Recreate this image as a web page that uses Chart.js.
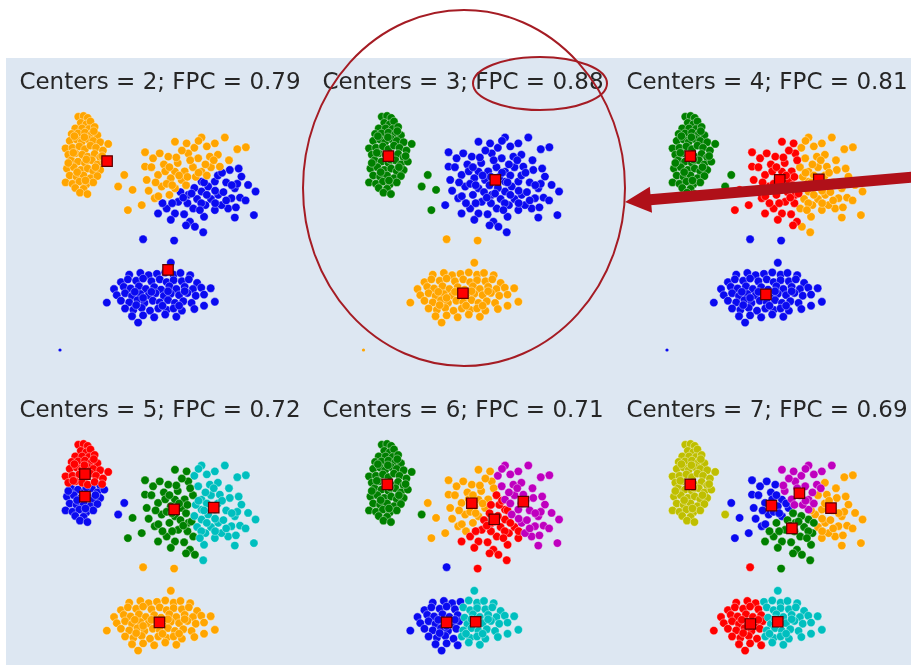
<!DOCTYPE html>
<html>
<head>
<meta charset="utf-8">
<script src="https://cdn.jsdelivr.net/npm/chart.js@4.4.1/dist/chart.umd.min.js"></script>
<style>
  html, body { margin:0; padding:0; background:#fff; width:911px; height:665px; overflow:hidden; position:relative; }
  #panel { position:absolute; left:6px; top:58px; width:905px; height:607px; background:#dde7f2; }
  canvas.sub { position:absolute; }
  #marks { position:absolute; left:0; top:0; pointer-events:none; }
</style>
</head>
<body>
<div id="panel"></div>
<div id="plots"></div>
<svg id="marks" width="911" height="665">
  <ellipse cx="464" cy="188" rx="161" ry="178" fill="none" stroke="#a51c24" stroke-width="2"/>
  <ellipse cx="540" cy="83.5" rx="67" ry="26.5" fill="none" stroke="#a51c24" stroke-width="2"/>
  <line x1="915" y1="177" x2="650" y2="199.8" stroke="#b01019" stroke-width="11"/>
  <polygon points="625,202 652,212.8 649.8,186.8" fill="#b01019"/>
</svg>
<script>
// titles
const centerCounts = [2, 3, 4, 5, 6, 7];
const fpcValues = [0.79, 0.88, 0.81, 0.72, 0.71, 0.69];

// colours used for clusters, in cluster order
const clusterColors = ['#0a0af0', '#ffa500', '#008000', '#ff0000', '#00bfbf', '#bf00bf', '#bfbf00'];

// cluster centres
const centersX = [
  [3.90, 1.70],
  [4.76, 3.59, 0.90],
  [3.57, 5.48, 0.84, 4.07],
  [0.90, 3.59, 4.12, 0.90, 5.55],
  [3.00, 3.91, 0.86, 4.72, 4.05, 5.77],
  [3.77, 5.92, 4.51, 3.01, 4.00, 4.78, 0.84]
];
const centersY = [
  [2.89, 6.82],
  [6.14, 2.05, 7.00],
  [2.01, 6.16, 7.00, 6.14],
  [6.55, 2.01, 6.09, 7.36, 6.15],
  [2.01, 6.31, 6.99, 5.73, 2.03, 6.37],
  [6.22, 6.13, 5.40, 1.95, 2.03, 6.67, 6.99]
];

// the points (same for every panel)
const topLeftBlob = [
  [0.66,8.42],[0.85,8.45],[1.00,8.38],[0.75,8.20],[0.95,8.15],[1.10,8.25],[0.55,8.00],[0.80,8.00],
  [1.05,7.98],[1.25,8.05],[0.42,7.80],[0.65,7.82],[0.90,7.85],[1.15,7.80],[1.35,7.75],[0.35,7.55],
  [0.60,7.60],[0.78,7.50],[1.00,7.62],[1.20,7.55],[1.45,7.50],[1.74,7.44],[0.20,7.28],[0.45,7.30],
  [0.70,7.35],[0.90,7.25],[1.10,7.38],[1.30,7.30],[1.55,7.20],[0.30,7.05],[0.55,7.10],[0.80,7.05],
  [1.00,6.98],[1.25,7.08],[1.45,6.95],[0.40,6.85],[0.65,6.80],[0.90,6.75],[1.15,6.85],[1.35,6.70],
  [1.60,6.80],[0.25,6.55],[0.50,6.60],[0.75,6.50],[1.00,6.55],[1.20,6.45],[1.45,6.50],[0.35,6.30],
  [0.60,6.25],[0.85,6.30],[1.10,6.20],[1.35,6.28],[0.20,6.05],[0.45,6.00],[0.70,6.08],[0.95,5.98],
  [1.20,6.05],[0.55,5.85],[0.85,5.82],[0.72,5.68],[0.99,5.63],[0.52,7.72],[0.88,7.68],[1.22,7.90],
  [0.48,7.12],[0.95,6.88],[1.28,6.60],[0.62,6.42],[0.92,6.12],[1.52,7.00],[0.30,6.75]
];
const upperCloud = [
  [3.07,7.14],[4.15,7.52],[4.57,7.46],[5.11,7.67],[5.95,7.67],[6.71,7.32],[5.59,7.46],[3.07,6.62],
  [3.13,6.14],[2.95,5.23],[3.54,4.93],[4.15,4.93],[4.48,4.90],[4.69,4.63],[4.87,4.45],[5.17,4.25],
  [5.20,4.81],[6.31,4.78],[7.00,4.87],[7.06,5.72],[6.79,5.96],[6.55,6.26],[6.13,6.50],[6.19,5.48],
  [6.07,5.11],[3.42,5.48],[3.85,5.11],[5.25,5.23],[5.71,5.60],[3.36,6.92],[3.91,6.98],[4.63,7.10],
  [4.99,6.92],[5.41,6.98],[5.77,6.62],[3.54,6.32],[4.15,6.44],[5.11,6.44],[5.59,6.08],[4.15,5.84],
  [4.63,5.60],[5.11,5.72],[3.67,5.90],[4.39,6.14],[5.11,6.08],[6.31,5.84],[5.83,5.23],[4.27,5.35],
  [4.81,5.11],[5.59,5.05],[3.30,6.60],[3.75,6.70],[4.00,6.20],[4.25,6.75],[4.50,6.45],[4.80,6.60],
  [4.90,6.25],[5.30,6.30],[5.45,6.60],[5.70,6.30],[6.00,6.05],[6.40,6.00],[3.80,6.45],[4.55,5.95],
  [4.85,5.85],[5.35,5.90],[5.60,5.75],[5.90,5.70],[3.95,5.60],[4.35,5.70],[4.95,5.45],[5.45,5.45],
  [6.00,5.40],[6.50,5.50],[3.55,5.55],[3.20,5.75],[4.05,5.30],[4.60,5.30],[5.10,5.30],[5.60,5.30],
  [4.40,7.20],[4.85,7.30],[5.30,7.35],[5.70,7.05],[6.10,6.85],[6.40,7.25],[5.00,7.55],[3.60,7.10],
  [4.20,6.95],[6.45,6.55],[4.00,4.70],[4.55,4.50],[3.85,6.00],[4.70,6.85],[5.25,6.70],[5.05,5.05],
  [6.35,5.15],[3.45,6.05],[4.05,5.95],[4.60,6.25],[5.20,6.05],[5.85,6.40],[4.30,6.30],[5.00,6.40],
  [3.70,5.30],[4.75,5.65],[5.30,5.60],[6.20,5.95],[4.45,5.50],[3.95,6.60],[5.55,6.85],[6.70,5.40]
];
const lowerBlob = [
  [2.50,2.72],[2.90,2.78],[3.20,2.70],[3.50,2.75],[3.80,2.80],[4.10,2.72],[4.35,2.78],[4.70,2.70],
  [2.20,2.45],[2.45,2.55],[2.75,2.50],[3.00,2.58],[3.30,2.48],[3.60,2.55],[3.85,2.45],[4.10,2.52],
  [4.40,2.48],[4.65,2.55],[4.95,2.42],[5.44,2.23],[1.95,2.20],[2.30,2.28],[2.55,2.22],[2.85,2.30],
  [3.10,2.20],[3.40,2.27],[3.65,2.18],[3.95,2.30],[4.20,2.20],[4.50,2.28],[4.80,2.20],[5.10,2.25],
  [2.05,1.98],[2.35,2.05],[2.60,1.95],[2.90,2.02],[3.20,1.97],[3.45,2.05],[3.75,1.95],[4.00,2.03],
  [4.30,1.98],[4.60,2.06],[4.90,1.96],[5.20,2.00],[1.69,1.71],[2.20,1.78],[2.50,1.72],[2.80,1.80],
  [3.05,1.70],[3.35,1.78],[3.60,1.72],[3.90,1.80],[4.15,1.70],[4.45,1.76],[4.75,1.70],[5.20,1.60],
  [5.59,1.74],[2.35,1.50],[2.65,1.45],[2.95,1.52],[3.25,1.42],[3.55,1.50],[3.85,1.45],[4.10,1.50],
  [4.40,1.42],[4.85,1.48],[2.60,1.22],[3.00,1.25],[3.40,1.18],[3.80,1.28],[4.20,1.20],[2.82,0.99],
  [2.70,2.10],[3.30,2.10],[3.90,2.12],[4.50,2.12],[3.00,1.88],[3.70,1.60],[4.30,1.60],[2.75,1.62]
];
const strayPoints = [
  [2.32,6.32],[2.10,5.90],[2.62,5.78],[2.45,5.05],[3.00,4.00],[4.12,3.95],[4.00,3.15]
];
const tinyPoint = [[0.00,0.00]];

// page layout (pixels)
const PX = 27.7;                    // pixels per data unit
const canvasLeft = [9, 312, 616];
const originX = [60, 363.5, 667];   // pixel x of data x = 0 in each column
const canvasTop = [69, 397];
const canvasH = [326, 268];
const originY = [350, 678];         // pixel y of data y = 0 in each row
const canvasW = 302;
const TITLE_H = 23 * 1.2;

function nearest(p, cx, cy) {
  let best = 0, bd = Infinity;
  for (let j = 0; j < cx.length; j++) {
    const d = (p[0] - cx[j]) ** 2 + (p[1] - cy[j]) ** 2;
    if (d < bd) { bd = d; best = j; }
  }
  return best;
}

const allPoints = topLeftBlob.concat(upperCloud, lowerBlob, strayPoints);
const plots = document.getElementById('plots');

for (let i = 0; i < 6; i++) {
  const col = i % 3, row = Math.floor(i / 3);
  const cv = document.createElement('canvas');
  cv.className = 'sub';
  cv.width = canvasW; cv.height = canvasH[row];
  cv.style.left = canvasLeft[col] + 'px';
  cv.style.top = canvasTop[row] + 'px';
  plots.appendChild(cv);

  const cx = centersX[i], cy = centersY[i];
  const groups = cx.map(() => []);
  allPoints.forEach(p => groups[nearest(p, cx, cy)].push({x: p[0], y: p[1]}));
  const tinyGroup = nearest(tinyPoint[0], cx, cy);

  const datasets = [{
    data: cx.map((x, j) => ({x: x, y: cy[j]})),
    pointStyle: 'rect',
    pointRadius: 7.4,
    backgroundColor: '#ff0000',
    borderColor: '#5a0000',
    pointBorderWidth: 1.2,
    clip: false
  }];
  for (let j = cx.length - 1; j >= 0; j--) {
    datasets.push({
      data: groups[j],
      pointRadius: 4.2,
      backgroundColor: clusterColors[j],
      borderColor: 'rgba(255,255,255,0.55)',
      pointBorderWidth: 0.7,
      clip: false
    });
  }
  datasets.push({
    data: tinyPoint.map(p => ({x: p[0], y: p[1]})),
    pointRadius: 1.6,
    backgroundColor: clusterColors[tinyGroup],
    borderWidth: 0,
    clip: false
  });

  new Chart(cv, {
    type: 'scatter',
    data: { datasets: datasets },
    options: {
      responsive: false,
      devicePixelRatio: 1,
      animation: false,
      events: [],
      layout: { padding: 0, autoPadding: false },
      plugins: {
        legend: { display: false },
        tooltip: { enabled: false },
        title: {
          display: true,
          text: 'Centers = ' + centerCounts[i] + '; FPC = ' + fpcValues[i].toFixed(2),
          color: '#262626',
          font: { family: 'DejaVu Sans', size: 23, weight: 'normal', lineHeight: 1.2 },
          padding: { top: 0, bottom: 0 }
        }
      },
      scales: {
        x: {
          type: 'linear', display: false,
          min: (canvasLeft[col] - originX[col]) / PX,
          max: (canvasLeft[col] + canvasW - originX[col]) / PX
        },
        y: {
          type: 'linear', display: false,
          min: (originY[row] - (canvasTop[row] + canvasH[row])) / PX,
          max: (originY[row] - (canvasTop[row] + TITLE_H)) / PX
        }
      }
    }
  });
}
</script>
</body>
</html>
